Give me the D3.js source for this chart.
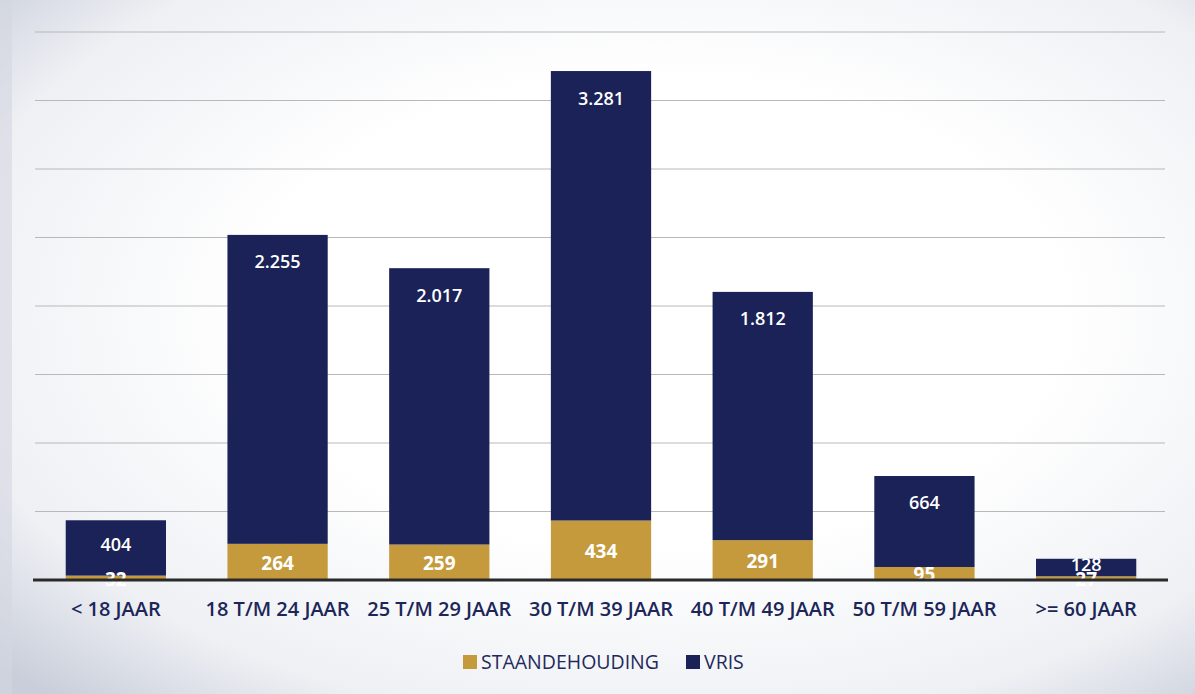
<!DOCTYPE html>
<html><head><meta charset="utf-8">
<script src="https://cdn.jsdelivr.net/npm/d3@7"></script>
<style>html,body{margin:0;padding:0;background:#fff;}svg{display:block;}</style>
</head><body>
<script>
const categories = ["< 18 JAAR","18 T/M 24 JAAR","25 T/M 29 JAAR","30 T/M 39 JAAR","40 T/M 49 JAAR","50 T/M 59 JAAR",">= 60 JAAR"];
const staandehouding = [32,264,259,434,291,95,27];
const vris = [404,2255,2017,3281,1812,664,128];
const seriesNames = ["STAANDEHOUDING","VRIS"];
const seriesColors = ["#c49a3c","#1a2257"];
const gridTicks = [0,500,1000,1500,2000,2500,3000,3500,4000];

const W=1195,H=694;
const svg=d3.select("body").append("svg").attr("width",W).attr("height",H);
const defs=svg.append("defs");
const g=defs.append("radialGradient").attr("id","bg").attr("cx","0.55").attr("cy","0.45").attr("r","0.75");
g.append("stop").attr("offset","0.45").attr("stop-color","#ffffff");
g.append("stop").attr("offset","0.8").attr("stop-color","#eef0f4");
g.append("stop").attr("offset","1").attr("stop-color","#c9ceda");
svg.append("rect").attr("width",W).attr("height",H).attr("fill","url(#bg)");
svg.append("rect").attr("x",0).attr("y",0).attr("width",12).attr("height",H).attr("fill","#d3d7e1").attr("opacity",0.6);

const x=d3.scaleBand().domain(categories).range([35,1167]).paddingInner(0.38).paddingOuter(0.19);
const y=d3.scaleLinear().domain([0,4000]).range([580,32]);

const loc=d3.formatLocale({decimal:",",thousands:".",grouping:[3],currency:["€",""]});
const fmt=loc.format(",d");

// gridlines
svg.append("g").selectAll("line").data(gridTicks.filter(t=>t>0)).join("line")
 .attr("x1",35).attr("x2",1165).attr("y1",d=>y(d)).attr("y2",d=>y(d))
 .attr("stroke","#b8b8b8").attr("stroke-width",1);

const data=categories.map((c,i)=>({c,s:staandehouding[i],v:vris[i]}));
const bars=svg.append("g");
bars.selectAll("rect.s").data(data).join("rect").attr("class","s")
 .attr("x",d=>x(d.c)).attr("width",x.bandwidth())
 .attr("y",d=>y(d.s)).attr("height",d=>y(0)-y(d.s)).attr("fill",seriesColors[0]);
bars.selectAll("rect.v").data(data).join("rect").attr("class","v")
 .attr("x",d=>x(d.c)).attr("width",x.bandwidth())
 .attr("y",d=>y(d.s+d.v)).attr("height",d=>y(d.s)-y(d.s+d.v)).attr("fill",seriesColors[1]);

// baseline
svg.append("line").attr("x1",33).attr("x2",1168).attr("y1",y(0)).attr("y2",y(0))
 .attr("stroke","#2a2a2a").attr("stroke-width",3);

const font="'Open Sans', sans-serif";
// labels
bars.selectAll("text.s").data(data).join("text").attr("class","s")
 .attr("x",d=>x(d.c)+x.bandwidth()/2)
 .attr("y",d=>(y(0)+y(d.s))/2+1).attr("dy","0.36em")
 .attr("text-anchor","middle").attr("fill","#fff").attr("font-family",font)
 .attr("font-size",19).attr("font-weight",700).text(d=>fmt(d.s));
bars.selectAll("text.v").data(data).join("text").attr("class","v")
 .attr("x",d=>x(d.c)+x.bandwidth()/2)
 .attr("y",d=>{const top=y(d.s+d.v),bot=y(d.s);return Math.min(top+27,(top+bot)/2-3);}).attr("dy","0.36em")
 .attr("text-anchor","middle").attr("fill","#fff").attr("font-family",font)
 .attr("font-size",18).attr("font-weight",600).text(d=>fmt(d.v));

// category axis labels
const xa=svg.append("g").attr("transform",`translate(0,${y(0)})`).call(d3.axisBottom(x).tickSize(0).tickPadding(22));
xa.select(".domain").remove();
xa.selectAll("text").attr("fill","#1c2658").attr("font-family",font).attr("font-size",20).attr("font-weight",600);

// legend
const leg=svg.append("g").attr("font-family",font).attr("font-size",19.5).attr("fill","#1f2a5c");
const items=[{x:463,name:seriesNames[0],col:seriesColors[0]},{x:686,name:seriesNames[1],col:seriesColors[1]}];
items.forEach(it=>{
  leg.append("rect").attr("x",it.x).attr("y",655).attr("width",14).attr("height",14).attr("fill",it.col);
  leg.append("text").attr("x",it.x+18).attr("y",662).attr("dy","0.36em").attr("fill","#1f2a5c").text(it.name);
});
</script>
</body></html>
